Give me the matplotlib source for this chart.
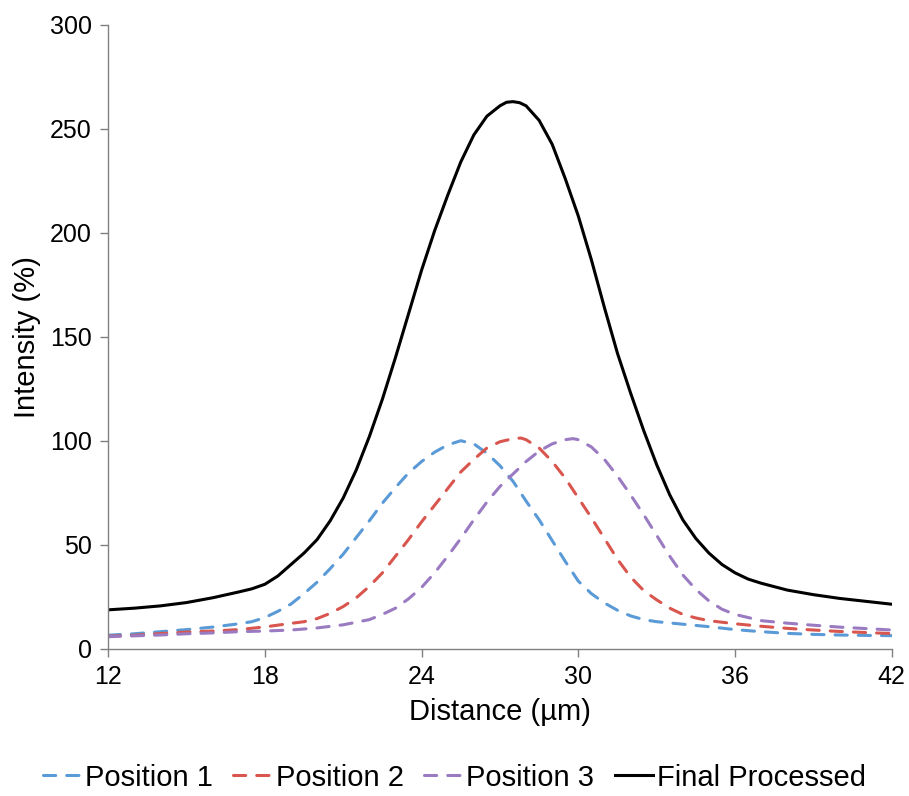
import numpy as np
import matplotlib
matplotlib.use("Agg")
import matplotlib.pyplot as plt

plt.rcParams['font.family'] = ['Liberation Sans', 'DejaVu Sans']

# distance (um) and intensity (%)
x_pos1 = [12, 13, 14, 15, 16, 17, 17.5, 18, 18.5, 19, 19.5, 20, 20.5, 21, 21.5, 22, 22.5, 23,
          23.5, 24, 24.5, 25, 25.5, 26, 26.5, 27, 27.5, 28, 28.5, 29, 29.5, 30, 30.5, 31, 31.5,
          32, 32.5, 33, 34, 35, 36, 37, 38, 39, 40, 41, 42]
y_pos1 = [6.5, 7.2, 8.2, 9.2, 10.4, 12, 13, 15, 18, 21.5, 26.5, 32, 38.5, 45.5, 53.5, 61.5, 70, 77.5,
          84.5, 90, 94.5, 98, 100, 98.5, 94, 88, 80.5, 71, 62, 52, 42, 32.5, 26.5, 22, 18.5,
          15.8, 14, 13, 11.8, 10.6, 9.2, 8.2, 7.4, 6.9, 6.6, 6.4, 6.3]

x_pos2 = [12, 13, 14, 15, 16, 17, 18, 19, 19.5, 20, 20.5, 21, 21.5, 22, 22.5, 23, 23.5, 24, 24.5,
          25, 25.5, 26, 26.5, 27, 27.5, 27.8, 28, 28.5, 29, 29.5, 30, 30.5, 31, 31.5, 32, 32.5,
          33, 33.5, 34, 34.5, 35, 36, 37, 38, 39, 40, 41, 42]
y_pos2 = [6, 6.5, 7.3, 8, 8.5, 9.2, 10.5, 12.2, 13, 14.5, 17, 20.3, 24.5, 30, 36.5, 44.5, 52.5, 61, 69,
          77, 85, 91, 96.5, 99.5, 101, 101.3, 100.5, 96.5, 90, 82, 72.5, 63, 53, 43, 34.5, 28,
          23.5, 19.5, 16.5, 14.8, 13.5, 12, 10.8, 9.8, 9, 8.3, 7.8, 7.3]

x_pos3 = [12, 13, 14, 15, 16, 17, 18, 19, 20, 21, 22, 22.5, 23, 23.5, 24, 24.5, 25, 25.5, 26, 26.5,
          27, 27.5, 28, 28.5, 29, 29.5, 29.8, 30, 30.5, 31, 31.5, 32, 32.5, 33, 33.5, 34, 34.5,
          35, 35.5, 36, 37, 38, 39, 40, 41, 42]
y_pos3 = [5.8, 6.2, 6.6, 7.2, 7.6, 8.2, 8.5, 9, 10, 11.5, 14, 16.5, 19.5, 24, 29.5, 36.5, 44.5, 53, 62, 70.5,
          78, 84, 90, 95, 98.5, 100.5, 101, 100.5, 97, 91, 83, 74, 64.5, 54.5, 44.5, 35.5, 28.5,
          23, 19, 16.5, 13.5, 12.3, 11.3, 10.4, 9.7, 9]

x_final = [12, 13, 14, 15, 16, 17, 17.5, 18, 18.5, 19, 19.5, 20, 20.5, 21, 21.5, 22, 22.5, 23, 23.5,
           24, 24.5, 25, 25.5, 26, 26.5, 27, 27.25, 27.5, 27.75, 28, 28.5, 29, 29.5, 30, 30.5, 31,
           31.5, 32, 32.5, 33, 33.5, 34, 34.5, 35, 35.5, 36, 36.5, 37, 38, 39, 40, 41, 42]
y_final = [18.7, 19.5, 20.6, 22.2, 24.5, 27.3, 28.8, 31, 35, 40.5, 46, 52.5, 61.5, 72.5, 86, 102, 120, 140, 161,
           182, 201, 218, 234, 247, 256, 261, 262.7, 263, 262.5, 261, 254, 242.5, 226, 208, 187, 164,
           142, 123, 105, 88.5, 74, 62, 53, 46, 40.5, 36.5, 33.5, 31.5, 28.2, 26, 24.2, 22.8, 21.4]

fig = plt.figure(figsize=(9.09, 7.96), dpi=100)
ax = fig.add_axes([0.119, 0.185, 0.862, 0.784])

dash = (4.0, 3.6)
kw = dict(lw=2.2, dashes=dash, dash_capstyle='round')
l1, = ax.plot(x_pos1, y_pos1, color='#5A9AD6', label='Position 1', **kw)
l2, = ax.plot(x_pos2, y_pos2, color='#D9564F', label='Position 2', **kw)
l3, = ax.plot(x_pos3, y_pos3, color='#9A7BC2', label='Position 3', **kw)
l4, = ax.plot(x_final, y_final, color='black', lw=2.2, label='Final Processed')

ax.set_xlim(12, 42)
ax.set_ylim(0, 300)
ax.set_xticks(np.arange(12, 43, 6))
ax.set_yticks(np.arange(0, 301, 50))

for s in ['top', 'right']:
    ax.spines[s].set_visible(False)
for s in ['left', 'bottom']:
    ax.spines[s].set_color('#808080')
    ax.spines[s].set_linewidth(1.0)
ax.tick_params(direction='out', length=6, width=1.0, color='#808080', labelsize=18, pad=6)

ax.set_xlabel('Distance (µm)', fontsize=21, labelpad=6)
ax.set_ylabel('Intensity (%)', fontsize=21, labelpad=6)

fig.legend(handles=[l1, l2, l3, l4], loc='center', bbox_to_anchor=(0.5, 0.023), ncol=4,
           frameon=False, fontsize=21, handlelength=1.3, handletextpad=0.15,
           columnspacing=0.7)

fig.savefig('out.png', dpi=100)
